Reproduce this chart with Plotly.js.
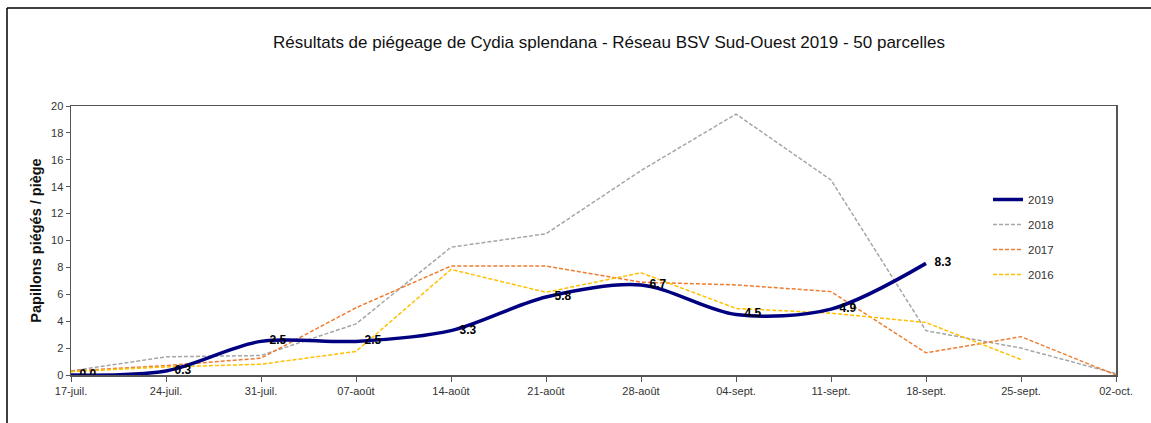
<!DOCTYPE html>
<html>
<head>
<meta charset="utf-8">
<script src="https://cdn.plot.ly/plotly-3.0.1.min.js"></script>
<style>html,body{margin:0;padding:0;background:#fff;}#chart{width:1151px;height:423px;}</style>
</head>
<body>
<div id="chart"></div>
<script>
const dates = ["17-juil.","24-juil.","31-juil.","07-août","14-août","21-août","28-août","04-sept.","11-sept.","18-sept.","25-sept.","02-oct."];
const v2019 = [0.0, 0.3, 2.5, 2.5, 3.3, 5.8, 6.7, 4.5, 4.9, 8.3];
const v2018 = [0.3, 1.35, 1.45, 3.8, 9.5, 10.5, 15.2, 19.4, 14.5, 3.3, 2.0, 0.1];
const v2017 = [0.3, 0.7, 1.25, 5.0, 8.1, 8.1, 6.9, 6.7, 6.2, 1.65, 2.85, 0.0];
const v2016 = [0.25, 0.6, 0.8, 1.75, 7.85, 6.15, 7.6, 4.95, 4.6, 3.9, 1.15];

const dashed = (color, rank, name, vals) => ({
  x: dates.slice(0, vals.length), y: vals, type: 'scatter', mode: 'lines', name: name,
  legendrank: rank, legendgroup: name,
  line: {color: color, width: 1.5, dash: '4px,2px'}, hoverinfo: 'skip'
});

const traces = [
  dashed('#A6A6A6', 2, '2018', v2018),
  dashed('#ED7D31', 3, '2017', v2017),
  dashed('#FFC000', 4, '2016', v2016),
  {
    x: dates.slice(0, v2019.length), y: v2019, type: 'scatter', mode: 'lines+markers+text', name: '2019',
    legendrank: 1, legendgroup: '2019',
    marker: {size: 12, color: 'rgba(0,0,0,0)', line: {width: 0}},
    line: {color: '#000080', width: 3.5, shape: 'spline', smoothing: 0.9},
    text: v2019.map(v => v.toFixed(1)), textposition: 'middle right',
    textfont: {family: 'Liberation Sans, Arial, sans-serif', size: 12, color: '#000', weight: 'bold'}
  }
];

const L = 71, R = 1116, T = 106, B = 375;
const px = x => (x - L) / (R - L);
const py = y => (B - y) / (B - T);

const layout = {
  width: 1151, height: 423,
  margin: {l: L, r: 1151 - R, t: T, b: 423 - B},
  paper_bgcolor: '#fff', plot_bgcolor: '#fff',
  font: {family: 'Liberation Sans, Arial, sans-serif', color: '#333', size: 11},
  showlegend: true,
  title: {
    text: 'Résultats de piégeage de Cydia splendana - Réseau BSV Sud-Ouest 2019 - 50 parcelles',
    font: {size: 17, color: '#111'}, x: px(609), xref: 'paper', xanchor: 'center',
    y: 1 - 42 / 423, yref: 'container', yanchor: 'middle'
  },
  xaxis: {
    type: 'category', range: [0, 11], showgrid: false, zeroline: false,
    showline: true, linecolor: '#555', linewidth: 1.5, mirror: true,
    ticks: 'outside', ticklen: 5, tickcolor: '#555', tickwidth: 1,
    tickfont: {size: 11, color: '#333'}
  },
  yaxis: {
    range: [0, 20], dtick: 2, tick0: 0, showgrid: false, zeroline: false,
    showline: true, linecolor: '#555', linewidth: 1.5, mirror: true,
    ticks: 'outside', ticklen: 4, tickcolor: '#555', tickwidth: 1,
    tickfont: {size: 11, color: '#333'},
    title: {text: 'Papillons piégés / piège', font: {size: 14.5, color: '#111', weight: 'bold'}, standoff: 6}
  },
  legend: {
    x: px(988), y: py(185), xanchor: 'left', yanchor: 'top',
    bgcolor: 'rgba(0,0,0,0)', tracegroupgap: 6,
    font: {size: 11.5, color: '#333'}
  },
  shapes: [
    {type: 'line', xref: 'paper', yref: 'paper', x0: px(7), x1: px(1151), y0: py(8), y1: py(8), line: {color: '#000', width: 1.5}},
    {type: 'line', xref: 'paper', yref: 'paper', x0: px(7), x1: px(7), y0: py(8), y1: py(423), line: {color: '#000', width: 1.5}}
  ]
};

Plotly.newPlot('chart', traces, layout, {displayModeBar: false, staticPlot: true});
</script>
</body>
</html>
